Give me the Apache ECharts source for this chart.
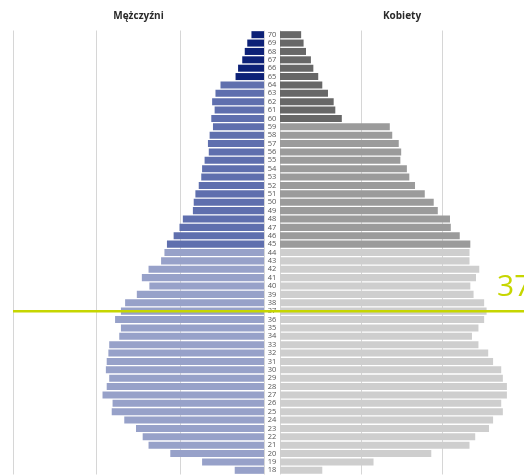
<!DOCTYPE html>
<html>
<head>
<meta charset="utf-8">
<script src="https://cdn.jsdelivr.net/npm/echarts@6/dist/echarts.min.js"></script>
<style>
  html, body { margin: 0; padding: 0; background: #fff; }
  #chart { width: 524px; height: 475px; }
</style>
</head>
<body>
<div id="chart"></div>
<script>
// ages from 18 (bottom) to 70 (top)
const ages = [];
for (let a = 18; a <= 70; a++) ages.push(String(a));

const men = [35, 74, 112, 138, 145, 153, 167, 182, 181, 193,
             188, 185, 189, 188, 186, 185, 173, 171, 178, 171,
             166, 152, 137, 146, 138, 123, 119, 116, 108, 101,
             97, 85, 84, 82, 78, 75, 74, 71, 66, 67,
             65, 61, 63, 59, 62, 58, 52, 34, 31, 26,
             23, 20, 15];

const women = [52, 115, 186, 233, 240, 257, 262, 274, 272, 279,
               279, 274, 272, 262, 256, 244, 236, 244, 251, 254,
               251, 238, 234, 241, 245, 233, 233, 234, 221, 210,
               209, 194, 189, 178, 166, 159, 156, 148, 149, 146,
               138, 135, 76, 68, 66, 59, 52, 47, 41, 38,
               32, 29, 26];

const titles = ['Mężczyźni', 'Kobiety'];
const markAge = '37';

const font = '"Open Sans", "Noto Sans", sans-serif';

function menColor(p) {
  const age = +ages[p.dataIndex];
  if (age >= 65) return '#0d2177';
  if (age >= 45) return '#5f6fae';
  return '#97a1c9';
}
function womenColor(p) {
  const age = +ages[p.dataIndex];
  if (age >= 60) return '#676767';
  if (age >= 45) return '#9b9b9b';
  return '#cecece';
}

const splitLine = { show: true, lineStyle: { color: '#d6d6d6', width: 1 } };

const chart = echarts.init(document.getElementById('chart'));
chart.setOption({
  animation: false,
  grid: [
    { left: 13, right: 260, top: 30.5, height: 444 },
    { left: 280, width: 255, top: 30.5, height: 444 }
  ],
  xAxis: [
    { gridIndex: 0, type: 'value', inverse: true, min: 0, max: 300, interval: 100,
      axisLabel: { show: false }, axisLine: { show: false }, axisTick: { show: false }, splitLine },
    { gridIndex: 1, type: 'value', min: 0, max: 300, interval: 100,
      axisLabel: { show: false }, axisLine: { show: false }, axisTick: { show: false }, splitLine }
  ],
  yAxis: [
    { gridIndex: 0, type: 'category', data: ages, position: 'right',
      axisLabel: { show: false }, axisLine: { show: false }, axisTick: { show: false } },
    { gridIndex: 1, type: 'category', data: ages, position: 'left',
      axisLine: { show: false }, axisTick: { show: false },
      axisLabel: { interval: 0, align: 'center', margin: 8, fontSize: 7.5, color: '#555', fontFamily: font } }
  ],
  series: [
    { type: 'bar', xAxisIndex: 0, yAxisIndex: 0, data: men, barCategoryGap: '16%',
      itemStyle: { color: menColor } },
    { type: 'bar', xAxisIndex: 1, yAxisIndex: 1, data: women, barCategoryGap: '16%',
      itemStyle: { color: womenColor } }
  ]
});

// reference line and header labels, placed from the axes
const yLine = chart.convertToPixel({ yAxisIndex: 0 }, markAge);
const xLeft = chart.convertToPixel({ xAxisIndex: 0 }, 300);
const xMen = (chart.convertToPixel({ xAxisIndex: 0 }, 300) + chart.convertToPixel({ xAxisIndex: 0 }, 0)) / 2;
const xWomen = (chart.convertToPixel({ xAxisIndex: 1 }, 300) + chart.convertToPixel({ xAxisIndex: 1 }, 0)) / 2;

chart.setOption({
  graphic: [
    { type: 'text', x: xMen, y: 16, z: 10,
      style: { text: titles[0], fill: '#2a2a2a', font: 'bold 10px ' + font, align: 'center', verticalAlign: 'middle' } },
    { type: 'text', x: xWomen, y: 16, z: 10,
      style: { text: titles[1], fill: '#2a2a2a', font: 'bold 10px ' + font, align: 'center', verticalAlign: 'middle' } },
    { type: 'line', z: 20,
      shape: { x1: xLeft, y1: yLine, x2: 524, y2: yLine },
      style: { stroke: '#c6d600', lineWidth: 2.5 } },
    { type: 'text', x: 497, y: yLine - 24, z: 20,
      style: { text: markAge, fill: '#c6d600', font: '30px ' + font, align: 'left', verticalAlign: 'middle' } }
  ]
});
</script>
</body>
</html>
